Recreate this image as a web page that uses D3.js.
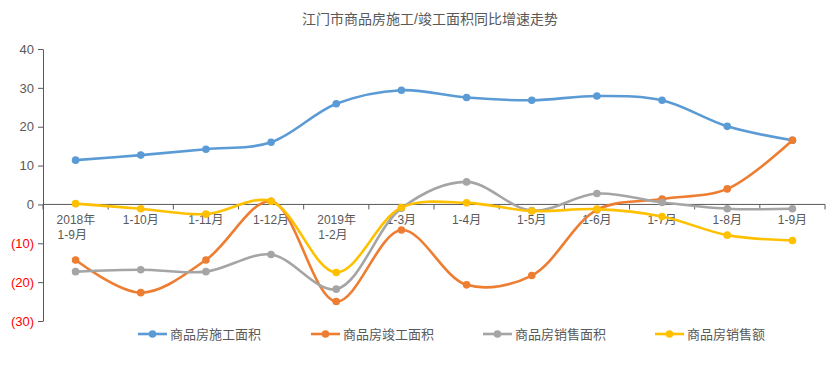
<!DOCTYPE html>
<meta charset="utf-8">
<div id="chart"></div>
<script src="https://d3js.org/d3.v7.min.js"></script>
<style type="text/css">
body { margin: 0; background: #fff; }
text { font-family: "Liberation Sans", "Noto Sans CJK SC", sans-serif; fill: #595959; }
.axis path, .axis line { stroke: #595959; }
.series { fill: none; stroke-width: 2.6; }
</style>
<script>

var categories = ["2018年|1-9月", "1-10月", "1-11月", "1-12月", "2019年|1-2月", "1-3月",
                  "1-4月", "1-5月", "1-6月", "1-7月", "1-8月", "1-9月"];
var seriesNames = ["商品房施工面积", "商品房竣工面积", "商品房销售面积", "商品房销售额"];
var colors = ["#5B9BD5", "#ED7D31", "#A5A5A5", "#FFC000"];

var construction = [11.4, 12.7, 14.2, 16.0, 25.9, 29.4, 27.5, 26.8, 27.9, 26.8, 20.1, 16.5];
var completion   = [-14.3, -22.7, -14.3, 0.8, -25.0, -6.6, -20.7, -18.3, -1.4, 1.4, 4.0, 16.5];
var salesArea    = [-17.3, -16.8, -17.3, -12.9, -21.8, -1.0, 5.8, -1.6, 2.8, 0.5, -1.1, -1.1];
var salesAmount  = [0.2, -1.1, -2.5, 0.8, -17.5, -0.8, 0.4, -1.7, -1.2, -3.1, -7.9, -9.3];
var yTicks = [40, 30, 20, 10, 0, -10, -20, -30];

var allSeries = [construction, completion, salesArea, salesAmount];

var margin = {top: 49, left: 43};
var width = 782, height = 272;

var svg = d3.select("#chart").append("svg")
    .attr("width", 840).attr("height", 370);

svg.append("text")
    .attr("x", 430).attr("y", 24)
    .attr("text-anchor", "middle")
    .style("font-size", "14px")
    .text("江门市商品房施工/竣工面积同比增速走势");

var g = svg.append("g").attr("transform", "translate(" + margin.left + "," + margin.top + ")");

var x = d3.scaleBand().domain(categories).range([0, width]);
var y = d3.scaleLinear().domain([-30, 40]).range([height, 0]);

// y axis
var yAxis = g.append("g").attr("class", "axis")
    .call(d3.axisLeft(y).tickValues(yTicks).tickSize(5).tickSizeOuter(0)
      .tickFormat(function(d){ return d < 0 ? "(" + (-d) + ")" : d; }));
yAxis.selectAll("text")
    .style("font-size", "13px")
    .attr("x", -9)
    .style("fill", function(d){ return d < 0 ? "#FF0000" : "#595959"; });

// x axis at zero, ticks at band boundaries
var xg = g.append("g").attr("class", "axis").attr("transform", "translate(0," + y(0) + ")");
xg.append("line").attr("x1", 0).attr("x2", width);
xg.selectAll(".tk").data(d3.range(categories.length + 1)).enter().append("line")
    .attr("x1", function(i){ return i * x.bandwidth(); })
    .attr("x2", function(i){ return i * x.bandwidth(); })
    .attr("y1", 0).attr("y2", 5);
var lbl = xg.selectAll(".lbl").data(categories).enter().append("text")
    .style("font-size", "12px")
    .attr("transform", function(d){ return "translate(" + (x(d) + x.bandwidth() / 2) + ",0)"; });
lbl.each(function(d){
  var parts = d.split("|");
  var t = d3.select(this);
  if (parts.length == 1) {
    t.attr("text-anchor", "middle").append("tspan").attr("x", 0).attr("y", 20).text(parts[0]);
  } else {
    t.attr("text-anchor", "start");
    t.append("tspan").attr("x", -19).attr("y", 20).text(parts[0]);
    t.append("tspan").attr("x", -18).attr("y", 35).text(parts[1]);
  }
});

var line = d3.line()
    .x(function(d, i){ return x(categories[i]) + x.bandwidth() / 2; })
    .y(function(d){ return y(d); })
    .curve(d3.curveCatmullRom.alpha(0.5));

allSeries.forEach(function(s, k) {
  g.append("path").datum(s)
    .attr("class", "series")
    .attr("stroke", colors[k])
    .attr("d", line);
  g.selectAll(".dot" + k).data(s).enter().append("circle")
    .attr("cx", function(d, i){ return x(categories[i]) + x.bandwidth() / 2; })
    .attr("cy", function(d){ return y(d); })
    .attr("r", 3.8)
    .attr("fill", colors[k]);
});

// legend
var legendX = [138, 311, 483, 655];
var legend = svg.selectAll(".legend").data(seriesNames).enter().append("g")
    .attr("transform", function(d, i){ return "translate(" + legendX[i] + ",334)"; });
legend.append("line").attr("x1", 0).attr("x2", 29).attr("y1", 0).attr("y2", 0)
    .attr("stroke", function(d, i){ return colors[i]; }).attr("stroke-width", 2.6);
legend.append("circle").attr("cx", 14.5).attr("cy", 0).attr("r", 3.8)
    .attr("fill", function(d, i){ return colors[i]; });
legend.append("text").attr("x", 32).attr("y", 4.5)
    .style("font-size", "13px")
    .text(function(d){ return d; });
</script>
